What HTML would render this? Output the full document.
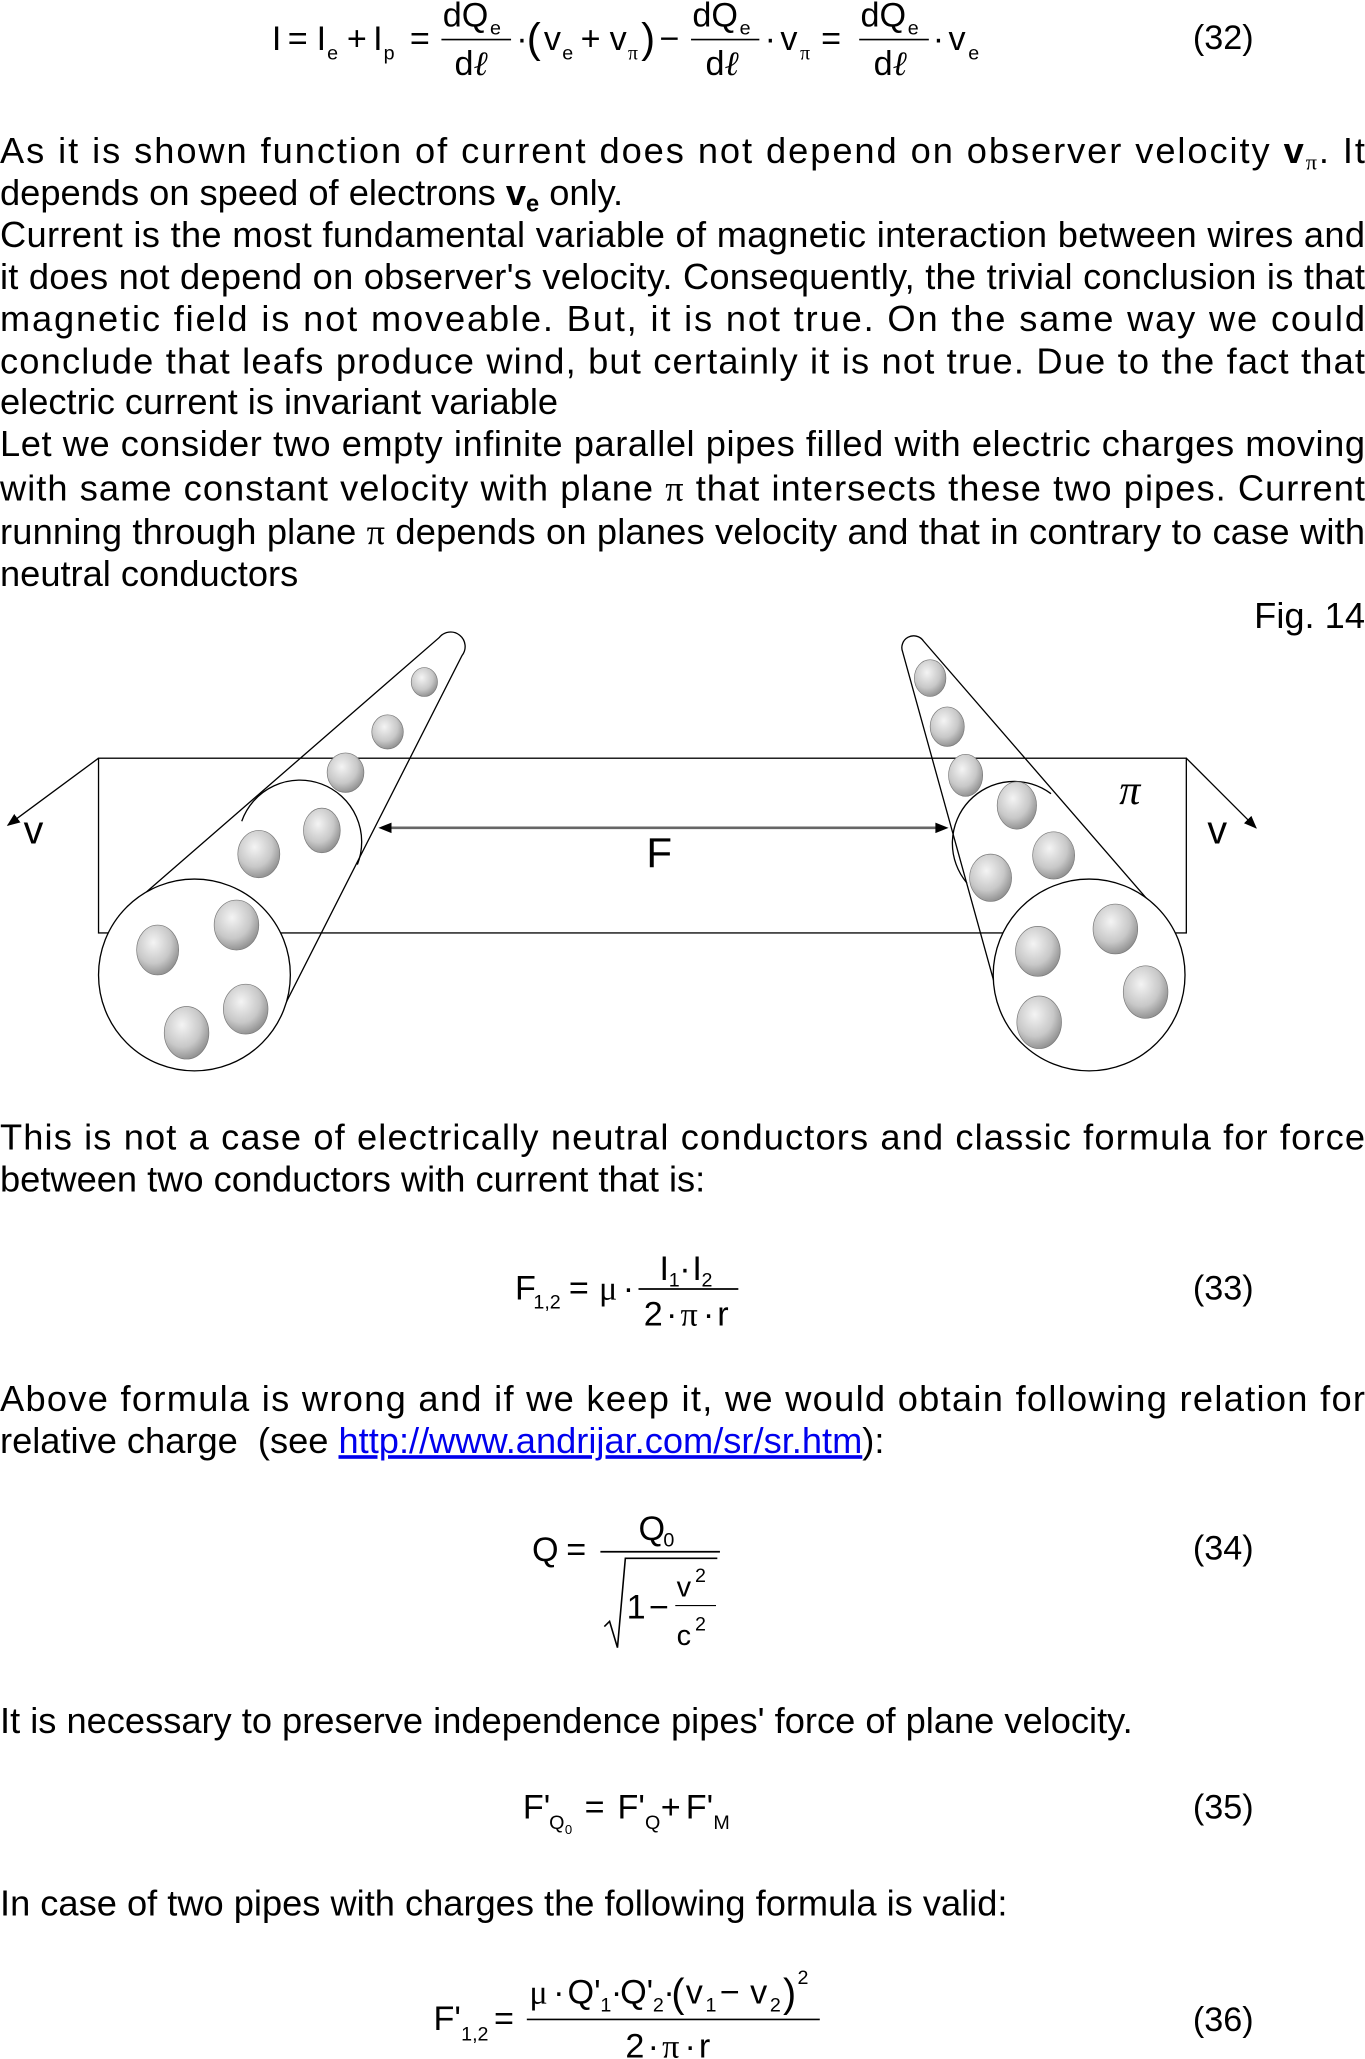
<!DOCTYPE html>
<html><head><meta charset="utf-8"><style>
html,body{margin:0;padding:0;background:#fff;}
svg{display:block;}
text{font-family:"Liberation Sans",Arial,sans-serif;fill:#000;}
.t{font-size:27.6px;}
.e{font-size:26px;}
.s{font-size:15px;}
.g{font-family:"Liberation Serif",serif;}
</style></head><body>
<svg width="1365" height="2059" viewBox="0 0 1039 1567" xmlns="http://www.w3.org/2000/svg">
<defs>
<radialGradient id="sp" cx="0.4" cy="0.35" r="0.7">
<stop offset="0" stop-color="#f4f4f4"/><stop offset="0.6" stop-color="#c8c8c8"/><stop offset="1" stop-color="#8a8a8a"/>
</radialGradient>
<marker id="ah" markerWidth="10" markerHeight="8" refX="9" refY="4" orient="auto" markerUnits="userSpaceOnUse">
<path d="M0,0 L10,4 L0,8 z" fill="#000"/></marker>
</defs>

<!-- Eq 32 -->
<g class="e">
<text x="207" y="38">I</text>
<text x="219" y="38">=</text>
<text x="241" y="38">I</text><text class="s" x="249" y="45">e</text>
<text x="264" y="38">+</text>
<text x="284" y="38">I</text><text class="s" x="292" y="45">p</text>
<text x="312" y="38">=</text>
<text x="337" y="20">dQ</text><text class="s" x="373" y="26">e</text>
<line x1="336" y1="30" x2="389" y2="30" stroke="#000" stroke-width="1.3"/>
<text x="346" y="57">d<tspan class="g" font-style="italic">ℓ</tspan></text>
<text x="393" y="38">·</text>
<text x="401" y="40" font-size="32">(</text>
<text x="414" y="38">v</text><text class="s" x="428" y="45">e</text>
<text x="442" y="38">+</text>
<text x="464" y="38">v</text><text class="s g" x="478" y="45">π</text>
<text x="488" y="40" font-size="32">)</text>
<text x="502" y="38">−</text>
<text x="527" y="20">dQ</text><text class="s" x="563" y="26">e</text>
<line x1="526" y1="30" x2="578" y2="30" stroke="#000" stroke-width="1.3"/>
<text x="537" y="57">d<tspan class="g" font-style="italic">ℓ</tspan></text>
<text x="582" y="38">·</text>
<text x="594" y="38">v</text><text class="s g" x="609" y="45">π</text>
<text x="625" y="38">=</text>
<text x="655" y="20">dQ</text><text class="s" x="691" y="26">e</text>
<line x1="654" y1="30" x2="707" y2="30" stroke="#000" stroke-width="1.3"/>
<text x="665" y="57">d<tspan class="g" font-style="italic">ℓ</tspan></text>
<text x="710" y="38">·</text>
<text x="722" y="38">v</text><text class="s" x="737" y="45">e</text>
<text x="908" y="37">(32)</text>
</g>

<!-- Paragraph 1 -->
<g class="t">
<text x="0" y="124" textLength="1039" lengthAdjust="spacing">As it is shown function of current does not depend on observer velocity <tspan font-weight="bold">v</tspan><tspan class="g" font-size="17" dy="5">π</tspan><tspan dy="-5">. It</tspan></text>
<text x="0" y="156">depends on speed of electrons <tspan font-weight="bold">v</tspan><tspan font-weight="bold" font-size="18" dy="5">e</tspan><tspan dy="-5"> only.</tspan></text>
<text x="0" y="188" textLength="1039" lengthAdjust="spacing">Current is the most fundamental variable of magnetic interaction between wires and</text>
<text x="0" y="220" textLength="1039" lengthAdjust="spacing">it does not depend on observer's velocity. Consequently, the trivial conclusion is that</text>
<text x="0" y="252" textLength="1039" lengthAdjust="spacing">magnetic field is not moveable. But, it is not true. On the same way we could</text>
<text x="0" y="284" textLength="1039" lengthAdjust="spacing">conclude that leafs produce wind, but certainly it is not true. Due to the fact that</text>
<text x="0" y="315">electric current is invariant variable</text>
<text x="0" y="347" textLength="1039" lengthAdjust="spacing">Let we consider two empty infinite parallel pipes filled with electric charges moving</text>
<text x="0" y="381" textLength="1039" lengthAdjust="spacing">with same constant velocity with plane <tspan class="g">π</tspan> that intersects these two pipes. Current</text>
<text x="0" y="414" textLength="1039" lengthAdjust="spacing">running through plane <tspan class="g">π</tspan> depends on planes velocity and that in contrary to case with</text>
<text x="0" y="446">neutral conductors</text>
<text x="1039" y="478" text-anchor="end">Fig. 14</text>
</g>

<!-- Figure -->
<g fill="none" stroke="#000" stroke-width="1">
<rect x="75" y="577" width="828" height="133"/>
<line x1="75" y1="577" x2="6" y2="628" marker-end="url(#ah)"/>
<line x1="903" y1="577" x2="956" y2="630" marker-end="url(#ah)"/>
</g>
<!-- left pipe -->
<g fill="none" stroke="#000" stroke-width="1">
<path d="M90.4,697.1 L334.3,485.2 A11,11 0 0 1 351.7,498.8 L205.6,786.9"/>
<path d="M184,625 A47,47 0 1 1 272,658"/>
<circle cx="148" cy="742" r="73" fill="#fff"/>
</g>
<!-- right pipe -->
<g fill="none" stroke="#000" stroke-width="1">
<path d="M764.7,776.5 L687.1,496.2 A9,9 0 0 1 702.9,487.8 L893.3,707.5"/>
<path d="M736,672 A47,47 0 0 1 800,604"/>
<circle cx="829" cy="742" r="73" fill="#fff"/>
</g>
<!-- spheres -->
<g fill="url(#sp)" stroke="#777" stroke-width="0.5">
<ellipse cx="323" cy="519" rx="10" ry="11"/>
<ellipse cx="295" cy="557" rx="12" ry="13"/>
<ellipse cx="263" cy="588" rx="14" ry="15"/>
<ellipse cx="245" cy="632" rx="14" ry="17"/>
<ellipse cx="197" cy="650" rx="16" ry="18"/>
<ellipse cx="120" cy="723" rx="16" ry="19"/>
<ellipse cx="180" cy="704" rx="17" ry="19"/>
<ellipse cx="187" cy="768" rx="17" ry="19"/>
<ellipse cx="142" cy="786" rx="17" ry="20"/>
<ellipse cx="708" cy="516" rx="12" ry="14"/>
<ellipse cx="721" cy="553" rx="13" ry="15"/>
<ellipse cx="735" cy="590" rx="13" ry="16"/>
<ellipse cx="774" cy="613" rx="15" ry="18"/>
<ellipse cx="802" cy="651" rx="16" ry="18"/>
<ellipse cx="754" cy="668" rx="16" ry="18"/>
<ellipse cx="790" cy="724" rx="17" ry="19"/>
<ellipse cx="849" cy="707" rx="17" ry="19"/>
<ellipse cx="872" cy="755" rx="17" ry="20"/>
<ellipse cx="791" cy="778" rx="17" ry="20"/>
</g>
<!-- F arrow -->
<line x1="292" y1="630" x2="718" y2="630" stroke="#666" stroke-width="2"/>
<path d="M288,630 L298,626 L298,634 z M722,630 L712,626 L712,634 z" fill="#000"/>
<text x="492" y="660" font-size="32">F</text>
<text x="18" y="642" font-size="30">v</text>
<text x="919" y="642" font-size="30">v</text>
<text x="852" y="612" font-size="32" class="g" font-style="italic">π</text>

<!-- Paragraph 2 -->
<g class="t">
<text x="0" y="875" textLength="1039" lengthAdjust="spacing">This is not a case of electrically neutral conductors and classic formula for force</text>
<text x="0" y="907">between two conductors with current that is:</text>
</g>

<!-- Eq 33 -->
<g class="e">
<text x="392" y="989">F</text><text class="s" x="406" y="996">1,2</text>
<text x="433" y="989">=</text>
<text x="456" y="989" class="g">μ</text>
<text x="474" y="989">·</text>
<text x="502" y="974">I</text><text class="s" x="509" y="979">1</text>
<text x="517" y="974">·</text><text x="527" y="974">I</text><text class="s" x="534" y="979">2</text>
<line x1="486" y1="981" x2="562" y2="981" stroke="#000" stroke-width="1.3"/>
<text x="490" y="1009">2</text><text x="507" y="1009">·</text><text x="518" y="1009" class="g">π</text><text x="535" y="1009">·</text><text x="546" y="1009">r</text>
<text x="908" y="989">(33)</text>
</g>

<!-- Paragraph 3 -->
<g class="t">
<text x="0" y="1074" textLength="1039" lengthAdjust="spacing">Above formula is wrong and if we keep it, we would obtain following relation for</text>
<text x="0" y="1106" xml:space="preserve">relative charge  (see <tspan fill="#0000ee" text-decoration="underline">http://www.andrijar.com/sr/sr.htm</tspan>):</text>
</g>

<!-- Eq 34 -->
<g class="e">
<text x="405" y="1188">Q</text>
<text x="431" y="1188">=</text>
<text x="486" y="1172">Q</text><text class="s" x="505" y="1177">0</text>
<line x1="457" y1="1181" x2="548" y2="1181" stroke="#000" stroke-width="1.3"/>
<path d="M460,1238 L464,1234 L470,1254 L476,1186 L546,1186" fill="none" stroke="#000" stroke-width="1.2"/>
<text x="477" y="1232">1</text>
<text x="494" y="1232">−</text>
<text x="515" y="1215" font-size="22">v</text><text class="s" x="529" y="1204">2</text>
<line x1="514" y1="1222" x2="545" y2="1222" stroke="#000" stroke-width="0.8"/>
<text x="515" y="1252" font-size="22">c</text><text class="s" x="529" y="1241">2</text>
<text x="908" y="1187">(34)</text>
</g>

<text class="t" x="0" y="1319">It is necessary to preserve independence pipes' force of plane velocity.</text>

<!-- Eq 35 -->
<g class="e">
<text x="398" y="1384">F'</text><text class="s" x="418" y="1392">Q</text><text font-size="10" x="430" y="1396">0</text>
<text x="445" y="1384">=</text>
<text x="470" y="1384">F'</text><text class="s" x="491" y="1392">Q</text>
<text x="503" y="1384">+</text>
<text x="522" y="1384">F'</text><text class="s" x="543" y="1392">M</text>
<text x="908" y="1384">(35)</text>
</g>

<text class="t" x="0" y="1458">In case of two pipes with charges the following formula is valid:</text>

<!-- Eq 36 -->
<g class="e">
<text x="330" y="1545">F'</text><text class="s" x="351" y="1553">1,2</text>
<text x="376" y="1545">=</text>
<text x="403" y="1525" class="g">μ</text>
<text x="421" y="1525">·</text>
<text x="432" y="1525">Q'</text><text class="s" x="457" y="1531">1</text>
<text x="465" y="1525">·</text>
<text x="472" y="1525">Q'</text><text class="s" x="497" y="1531">2</text>
<text x="505" y="1525">·</text>
<text x="511" y="1527" font-size="30">(</text>
<text x="522" y="1525">v</text><text class="s" x="537" y="1531">1</text>
<text x="548" y="1525">−</text>
<text x="571" y="1525">v</text><text class="s" x="586" y="1531">2</text>
<text x="596" y="1527" font-size="30">)</text>
<text class="s" x="607" y="1510">2</text>
<line x1="401" y1="1537" x2="624" y2="1537" stroke="#000" stroke-width="1.3"/>
<text x="476" y="1566">2</text><text x="493" y="1566">·</text><text x="504" y="1566" class="g">π</text><text x="521" y="1566">·</text><text x="532" y="1566">r</text>
<text x="908" y="1546">(36)</text>
</g>
</svg>
</body></html>
